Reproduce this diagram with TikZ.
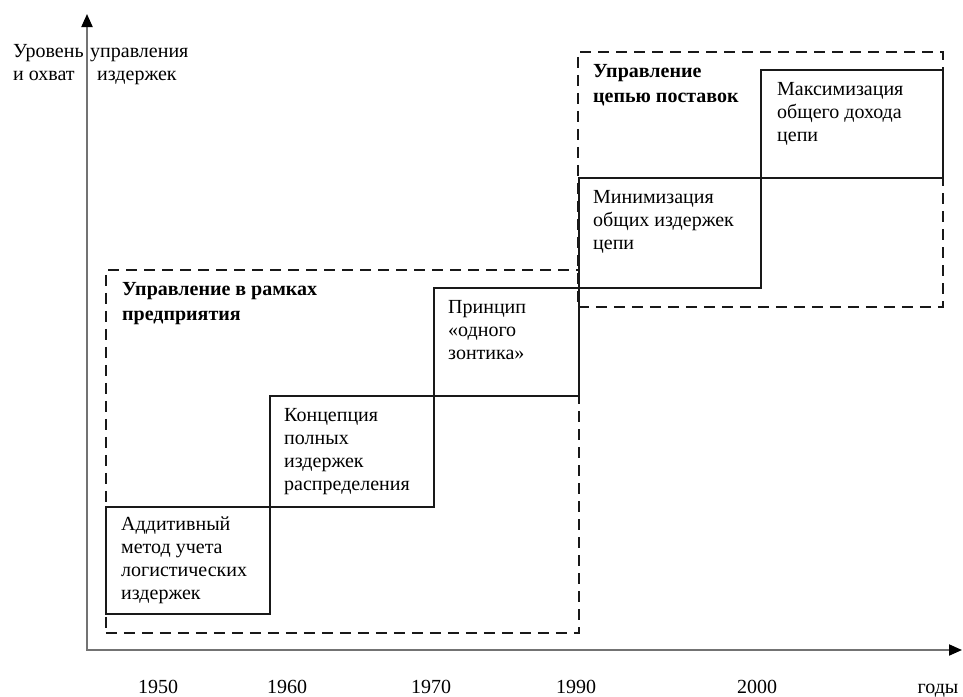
\documentclass[tikz,border=0pt]{standalone}
\usepackage{fontspec}
\setmainfont{Liberation Serif}
\usetikzlibrary{calc,arrows.meta}
\newcommand\tstr{\rule{0pt}{16pt}}
\begin{document}
\begin{tikzpicture}[x=1pt,y=-1pt,
  stepbox/.style={draw=black!90, line width=2pt, rectangle, anchor=north west, inner sep=0pt},
  zonebox/.style={draw=black!90, line width=1.8pt, dash pattern=on 11pt off 7pt, rectangle, anchor=north west, inner sep=0pt},
  txt/.style={font=\fontsize{20}{23}\selectfont, align=left, anchor=north west, inner sep=0pt},
  head/.style={txt, font=\fontsize{20}{25}\selectfont\bfseries},
  lbl/.style={font=\fontsize{20}{23}\selectfont, anchor=base west, inner sep=0pt},
  yr/.style={font=\fontsize{20}{23}\selectfont, anchor=base, inner sep=0pt},
  axisline/.style={draw=black!55, line width=2pt, -{Triangle[length=13pt,width=11pt,color=black]}},
]
\useasboundingbox (0,0) rectangle (963,696);

% zones (dashed)
\node[zonebox, minimum width=473pt, minimum height=363pt] (z1) at (105,269) {};
\node[zonebox, minimum width=365pt, minimum height=255pt] (z2) at (577,51) {};

% step boxes
\node[stepbox, minimum width=164pt, minimum height=107pt] (b1) at (105,506) {};
\node[stepbox, minimum width=164pt, minimum height=111pt] (b2) at (269,395) {};
\node[stepbox, minimum width=145pt, minimum height=108pt] (b3) at (433,287) {};
\node[stepbox, minimum width=182pt, minimum height=110pt] (b4) at (578,177) {};
\node[stepbox, minimum width=182pt, minimum height=108pt] (b5) at (760,69) {};

% texts (first baseline = top + 16pt)
\node[head] (h1) at ($(z1.north west)+(17,10)$) {\tstr Управление в рамках\\предприятия};
\node[head] (h2) at ($(z2.north west)+(16,10)$) {\tstr Управление\\цепью поставок};
\node[txt] (t1) at ($(b1.north west)+(16,8.5)$) {\tstr Аддитивный\\метод учета\\логистических\\издержек};
\node[txt] (t2) at ($(b2.north west)+(15,10)$) {\tstr Концепция\\полных\\издержек\\распределения};
\node[txt] (t3) at ($(b3.north west)+(15,10)$) {\tstr Принцип\\«одного\\зонтика»};
\node[txt] (t4) at ($(b4.north west)+(15,10)$) {\tstr Минимизация\\общих издержек\\цепи};
\node[txt] (t5) at ($(b5.north west)+(17,10)$) {\tstr Максимизация\\общего дохода\\цепи};

% axes
\coordinate (o) at (87,650);
\coordinate (oleft) at (86,650);
\coordinate (ytip) at (87,14);
\coordinate (xtip) at (962,650);
\draw[axisline] (o) -- (ytip);
\draw[axisline] (oleft) -- (xtip);

% axis labels
\node[lbl] (l1) at (13,57) {Уровень};
\node[lbl] (l2) at (90,57) {управления};
\node[lbl] (l3) at (13,80) {и охват};
\node[lbl] (l4) at (97,80) {издержек};

% years
\node[yr] (y1) at (158,693) {1950};
\node[yr] (y2) at (287,693) {1960};
\node[yr] (y3) at (431,693) {1970};
\node[yr] (y4) at (576,693) {1990};
\node[yr] (y5) at (757,693) {2000};
\node[yr] (y6) at (938,693) {годы};
\end{tikzpicture}
\end{document}
